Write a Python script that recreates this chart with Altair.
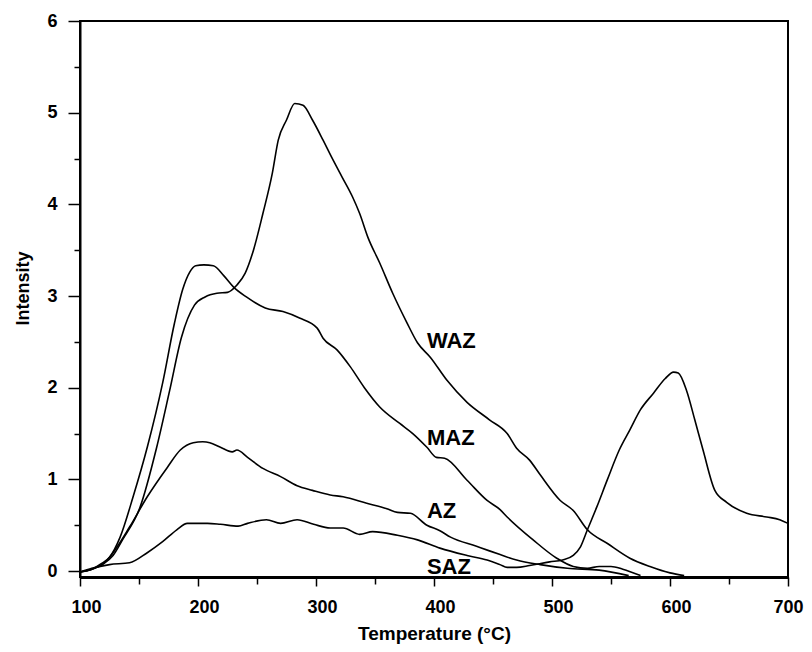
import altair as alt
import pandas as pd

# ---- data ----
waz_t = [100, 110, 120, 128, 136, 151, 165, 176, 186, 197, 206, 216, 225, 233, 240, 247, 255, 263,
         268, 275, 282, 289, 297, 306, 313, 322, 331, 337, 344, 354, 365, 377, 386, 397, 411, 428,
         447, 462, 470, 481, 490, 507, 518, 530, 547, 566, 583, 600, 612]
waz_i = [-0.01, 0.02, 0.08, 0.17, 0.34, 0.70, 1.35, 1.97, 2.55, 2.90, 2.99, 3.03, 3.04, 3.12, 3.25,
         3.50, 3.90, 4.34, 4.70, 4.92, 5.10, 5.08, 4.92, 4.70, 4.52, 4.30, 4.08, 3.90, 3.64, 3.36,
         3.03, 2.71, 2.49, 2.33, 2.08, 1.84, 1.65, 1.50, 1.34, 1.21, 1.05, 0.77, 0.66, 0.45, 0.30,
         0.14, 0.05, -0.02, -0.05]

maz_t = [100, 110, 118, 125, 134, 145, 157, 170, 180, 187, 193, 198, 205, 213, 222, 230, 241, 257,
         272, 286, 301, 306, 318, 329, 341, 354, 371, 382, 394, 402, 409, 428, 445, 456, 462, 484,
         504, 518, 530, 540, 550, 560, 575]
maz_i = [-0.01, 0.02, 0.08, 0.15, 0.37, 0.81, 1.35, 2.05, 2.70, 3.07, 3.26, 3.33, 3.34, 3.33, 3.22,
         3.10, 2.99, 2.87, 2.83, 2.76, 2.65, 2.54, 2.41, 2.23, 2.00, 1.79, 1.61, 1.50, 1.35, 1.24,
         1.23, 0.99, 0.77, 0.67, 0.59, 0.34, 0.14, 0.05, 0.03, 0.05, 0.05, 0.02, -0.05]

az_t = [100, 110, 120, 128, 142, 157, 174, 185, 196, 204, 210, 219, 229, 233, 242, 255, 270, 284,
        297, 312, 323, 343, 360, 369, 380, 394, 405, 414, 436, 447, 456, 470, 490, 513, 540, 565]
az_i = [-0.01, 0.02, 0.08, 0.20, 0.48, 0.81, 1.13, 1.32, 1.40, 1.41, 1.40, 1.35, 1.30, 1.32, 1.24,
        1.12, 1.03, 0.93, 0.88, 0.83, 0.81, 0.74, 0.68, 0.64, 0.63, 0.50, 0.44, 0.37, 0.27, 0.22,
        0.18, 0.12, 0.07, 0.03, 0.01, -0.05]

saz_t = [100, 110, 125, 142, 157, 170, 182, 191, 200, 208, 219, 234, 242, 258, 270, 284, 298, 312,
         323, 337, 348, 369, 386, 405, 428, 445, 456, 462, 470, 481, 498, 509, 518, 524, 530, 538,
         547, 557, 566, 575, 586, 596, 603, 607, 614, 621, 628, 638, 648, 665, 682, 693, 700]
saz_i = [-0.01, 0.03, 0.07, 0.09, 0.20, 0.32, 0.45, 0.52, 0.52, 0.52, 0.51, 0.49, 0.52, 0.56, 0.52,
         0.56, 0.51, 0.47, 0.47, 0.40, 0.43, 0.39, 0.34, 0.25, 0.17, 0.12, 0.07, 0.04, 0.04, 0.06,
         0.10, 0.12, 0.17, 0.26, 0.45, 0.70, 1.00, 1.32, 1.54, 1.76, 1.94, 2.10, 2.17, 2.16, 1.97,
         1.65, 1.32, 0.88, 0.75, 0.63, 0.59, 0.56, 0.52]

label_names = ["WAZ", "MAZ", "AZ", "SAZ"]
label_t = [394, 394, 394, 394]
label_i = [2.51, 1.45, 0.65, 0.04]

x_ticks = list(range(100, 701, 50))
y_ticks = [k * 0.5 for k in range(13)]

# ---- tables ----
frames = []
for name, t, i in [("WAZ", waz_t, waz_i), ("MAZ", maz_t, maz_i),
                   ("AZ", az_t, az_i), ("SAZ", saz_t, saz_i)]:
    frames.append(pd.DataFrame({"T": t, "I": i, "series": name}))
df = pd.concat(frames, ignore_index=True)
lbl = pd.DataFrame({"T": label_t, "I": label_i, "name": label_names})

FONT = "Liberation Sans"

x_scale = alt.Scale(domain=[100, 700], nice=False, zero=False)
y_scale = alt.Scale(domain=[-0.065, 6], nice=False, zero=False)

x_axis = alt.Axis(
    values=x_ticks,
    labelExpr="datum.value % 100 === 0 ? '' + datum.value : ''",
    tickSize={"condition": {"test": "datum.value % 100 === 0", "value": 9}, "value": 7},
    tickWidth=1.5, tickColor="black",
    domainWidth=3, domainColor="black",
    labelFont=FONT, labelFontSize=18, labelFontWeight="bold", labelColor="black",
    labelPadding=12,
    labelOffset={"condition": {"test": "datum.value === 700", "value": 0}, "value": 6},
    labelFlush=False, labelOverlap=False,
    title="Temperature (°C)", titleFont=FONT, titleFontSize=19, titleFontWeight="bold",
    titleColor="black", titlePadding=8, grid=False,
)
y_axis = alt.Axis(
    values=y_ticks,
    labelExpr="datum.value % 1 === 0 ? '' + datum.value : ''",
    tickSize={"condition": {"test": "datum.value % 1 === 0", "value": 12}, "value": 6},
    tickWidth=1.5, tickColor="black",
    domainWidth=2, domainColor="black",
    labelFont=FONT, labelFontSize=18, labelFontWeight="bold", labelColor="black",
    labelPadding=11, labelOverlap=False, labelFlush=False,
    title="Intensity", titleFont=FONT, titleFontSize=18, titleFontWeight="bold",
    titleColor="black", titlePadding=14, titleY=267, grid=False,
)

lines = alt.Chart(df).mark_line(color="black", strokeWidth=1.6, interpolate="monotone").encode(
    x=alt.X("T:Q", scale=x_scale, axis=x_axis),
    y=alt.Y("I:Q", scale=y_scale, axis=y_axis),
    detail="series:N",
)

texts = alt.Chart(lbl).mark_text(
    align="left", baseline="middle", font=FONT, fontSize=22, fontWeight="bold", color="black"
).encode(
    x=alt.X("T:Q", scale=x_scale),
    y=alt.Y("I:Q", scale=y_scale),
    text="name:N",
)

chart = (lines + texts).properties(
    width=708, height=556,
    autosize=alt.AutoSizeParams(type="none"),
    padding={"left": 72, "top": 13, "right": 16, "bottom": 67},
    background="white",
).configure_view(stroke="black", strokeWidth=2)

chart.save("out.html", embed_options={"renderer": "svg", "actions": False})
